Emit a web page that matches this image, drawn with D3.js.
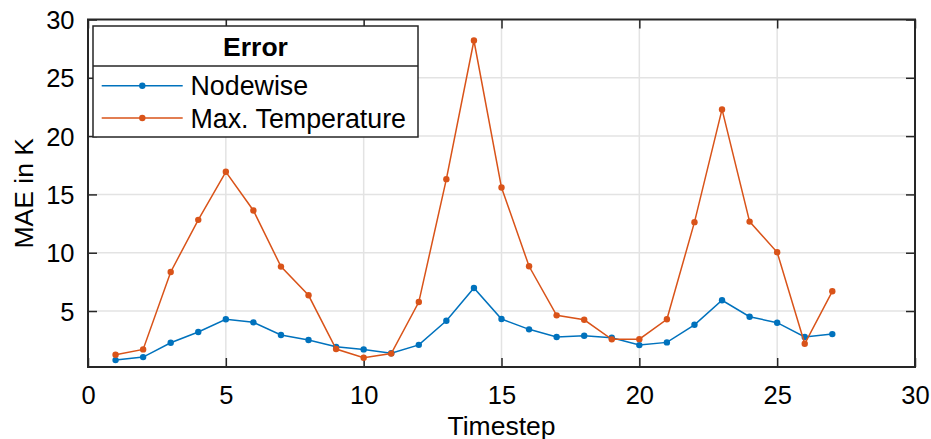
<!DOCTYPE html>
<html><head><meta charset="utf-8">
<script src="https://cdn.jsdelivr.net/npm/d3@7/dist/d3.min.js"></script>
<style>body{margin:0;background:#fff}svg{display:block}text{font-family:"Liberation Sans",Arial,sans-serif;fill:#000}</style>
</head><body><svg id="c" width="931" height="439"></svg>
<script>
const timesteps = d3.range(1, 28);
const nodewise = [0.79,1.05,2.28,3.20,4.29,4.03,2.94,2.51,1.93,1.71,1.38,2.10,4.17,6.98,4.31,3.43,2.77,2.88,2.71,2.08,2.31,3.82,5.92,4.51,4.00,2.77,3.02];
const maxTemp = [1.25,1.71,8.35,12.82,16.94,13.62,8.81,6.35,1.74,0.99,1.35,5.77,16.31,28.2,15.59,8.84,4.63,4.25,2.57,2.59,4.29,12.62,22.29,12.67,10.04,2.19,6.69];
const xTicks = [0,5,10,15,20,25,30];
const yTicks = [5,10,15,20,25,30];
const seriesNames = ["Nodewise","Max. Temperature"];
const colors = ["#0072BD","#D95319"];
const legendTitle = "Error";
const xLabel = "Timestep", yLabel = "MAE in K";

const L=88, R=915, T=19.5, B=367;
const svg = d3.select("#c");
const x = d3.scaleLinear().domain([0,30]).range([L,R]);
const y = d3.scaleLinear().domain([0.2,30]).range([B,T]);
const axisCol="#262626", gridCol="#e3e3e3";

// grid
const g = svg.append("g");
g.selectAll(".gx").data(xTicks.filter(d=>d>0&&d<30)).join("line")
  .attr("x1",d=>x(d)).attr("x2",d=>x(d)).attr("y1",T).attr("y2",B)
  .attr("stroke",gridCol).attr("stroke-width",1.5);
g.selectAll(".gy").data(yTicks.filter(d=>d<30)).join("line")
  .attr("x1",L).attr("x2",R).attr("y1",d=>y(d)).attr("y2",d=>y(d))
  .attr("stroke",gridCol).attr("stroke-width",1.5);

// axes using d3 axis generators (inner ticks)
const tl=9;
const axB = svg.append("g").attr("transform",`translate(0,${B})`)
  .call(d3.axisBottom(x).tickValues(xTicks).tickSize(-tl).tickPadding(tl+17).tickSizeOuter(0));
const axT = svg.append("g").attr("transform",`translate(0,${T})`)
  .call(d3.axisTop(x).tickValues(xTicks).tickSize(-tl).tickFormat("").tickSizeOuter(0));
const axL = svg.append("g").attr("transform",`translate(${L},0)`)
  .call(d3.axisLeft(y).tickValues(yTicks).tickSize(-tl).tickPadding(tl+14).tickSizeOuter(0));
const axR = svg.append("g").attr("transform",`translate(${R},0)`)
  .call(d3.axisRight(y).tickValues(yTicks).tickSize(-tl).tickFormat("").tickSizeOuter(0));
[axB,axT,axL,axR].forEach(a=>{
  a.select(".domain").remove();
  a.selectAll(".tick line").attr("stroke",axisCol).attr("stroke-width",1.5);
  a.selectAll("text").style("font-size","25.5px").attr("fill","#000").style("font-family",'"Liberation Sans",Arial,sans-serif');
});
axB.selectAll("text").attr("dy","0.71em").attr("y",18.5);
axL.selectAll("text").attr("dy","0.36em").attr("x",-13.5);

// data lines
[nodewise,maxTemp].forEach((s,i)=>{
  const line=d3.line().x((d,j)=>x(timesteps[j])).y(d=>y(d));
  svg.append("path").datum(s).attr("d",line).attr("fill","none")
    .attr("stroke",colors[i]).attr("stroke-width",1.5);
  svg.append("g").selectAll("circle").data(s).join("circle")
    .attr("cx",(d,j)=>x(timesteps[j])).attr("cy",d=>y(d)).attr("r",3.2).attr("fill",colors[i]);
});

// box
svg.append("rect").attr("x",L).attr("y",T).attr("width",R-L).attr("height",B-T)
  .attr("fill","none").attr("stroke",axisCol).attr("stroke-width",2);

// labels
svg.append("text").attr("x",(L+R)/2).attr("y",435).attr("text-anchor","middle")
  .style("font-size","26.5px").text(xLabel);
svg.append("text").attr("transform",`translate(33,${(T+B)/2}) rotate(-90)`).attr("text-anchor","middle")
  .style("font-size","26.5px").text(yLabel);

// legend
const lg = svg.append("g");
const lx0=93, lx1=418, ly0=26, ly1=137, ldiv=66;
lg.append("rect").attr("x",lx0).attr("y",ly0).attr("width",lx1-lx0).attr("height",ly1-ly0)
  .attr("fill","#fff").attr("stroke",axisCol).attr("stroke-width",1.5);
lg.append("line").attr("x1",lx0).attr("x2",lx1).attr("y1",ldiv).attr("y2",ldiv)
  .attr("stroke",axisCol).attr("stroke-width",1.5);
lg.append("text").attr("x",(lx0+lx1)/2).attr("y",56).attr("text-anchor","middle")
  .style("font-size","26.5px").style("font-weight","bold").text(legendTitle);
const rowY=[85.7,118];
seriesNames.forEach((n,i)=>{
  lg.append("line").attr("x1",101.7).attr("x2",182.7).attr("y1",rowY[i]).attr("y2",rowY[i])
    .attr("stroke",colors[i]).attr("stroke-width",1.5);
  lg.append("circle").attr("cx",142.3).attr("cy",rowY[i]).attr("r",3.2).attr("fill",colors[i]);
  lg.append("text").attr("x",190.5).attr("y",rowY[i]+9.5).style("font-size","26.8px").text(n);
});
</script></body></html>
